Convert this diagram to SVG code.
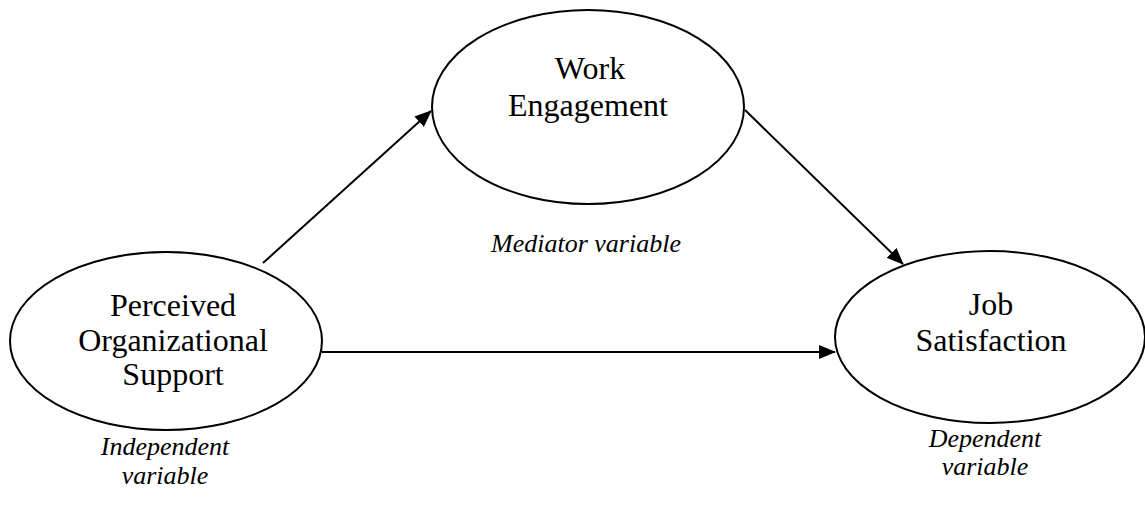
<svg xmlns="http://www.w3.org/2000/svg" width="1145" height="516" viewBox="0 0 1145 516">
<style>
.node ellipse{fill:#fff;stroke:#000;stroke-width:2}
.nt{font-family:"Liberation Serif","Times New Roman",serif;font-size:32px;fill:#000;text-anchor:middle}
.lab{font-family:"Liberation Serif","Times New Roman",serif;font-size:26px;font-style:italic;fill:#000;text-anchor:middle}
.conn line{stroke:#000;stroke-width:2;fill:none}
</style>
<defs>
<marker id="ah" viewBox="0 0 17 14" refX="16" refY="7" markerWidth="17" markerHeight="14" markerUnits="userSpaceOnUse" orient="auto">
<path d="M0,0 L17,7 L0,14 z" fill="#000"/>
</marker>
</defs>
<rect width="1145" height="516" fill="#fff"/>
<g id="connectors" class="conn">
<line x1="263" y1="263" x2="431" y2="111" marker-end="url(#ah)"/>
<line x1="745" y1="110" x2="903" y2="264" marker-end="url(#ah)"/>
<line x1="322" y1="352" x2="835" y2="352" marker-end="url(#ah)"/>
</g>
<g id="node-we" class="node">
<ellipse cx="588" cy="107" rx="156" ry="97"/>
<text class="nt" x="590" y="79">Work</text>
<text class="nt" x="588" y="116">Engagement</text>
</g>
<g id="node-pos" class="node">
<ellipse cx="166" cy="341" rx="156" ry="89"/>
<text class="nt" x="173" y="316">Perceived</text>
<text class="nt" x="173" y="351">Organizational</text>
<text class="nt" x="173" y="385">Support</text>
</g>
<g id="node-js" class="node">
<ellipse cx="990" cy="337" rx="155" ry="86"/>
<text class="nt" x="991" y="315">Job</text>
<text class="nt" x="991" y="351">Satisfaction</text>
</g>
<g id="labels">
<text class="lab" x="586" y="252">Mediator variable</text>
<text class="lab" x="165" y="455">Independent</text>
<text class="lab" x="165" y="484">variable</text>
<text class="lab" x="985" y="447">Dependent</text>
<text class="lab" x="985" y="475">variable</text>
</g>
</svg>
